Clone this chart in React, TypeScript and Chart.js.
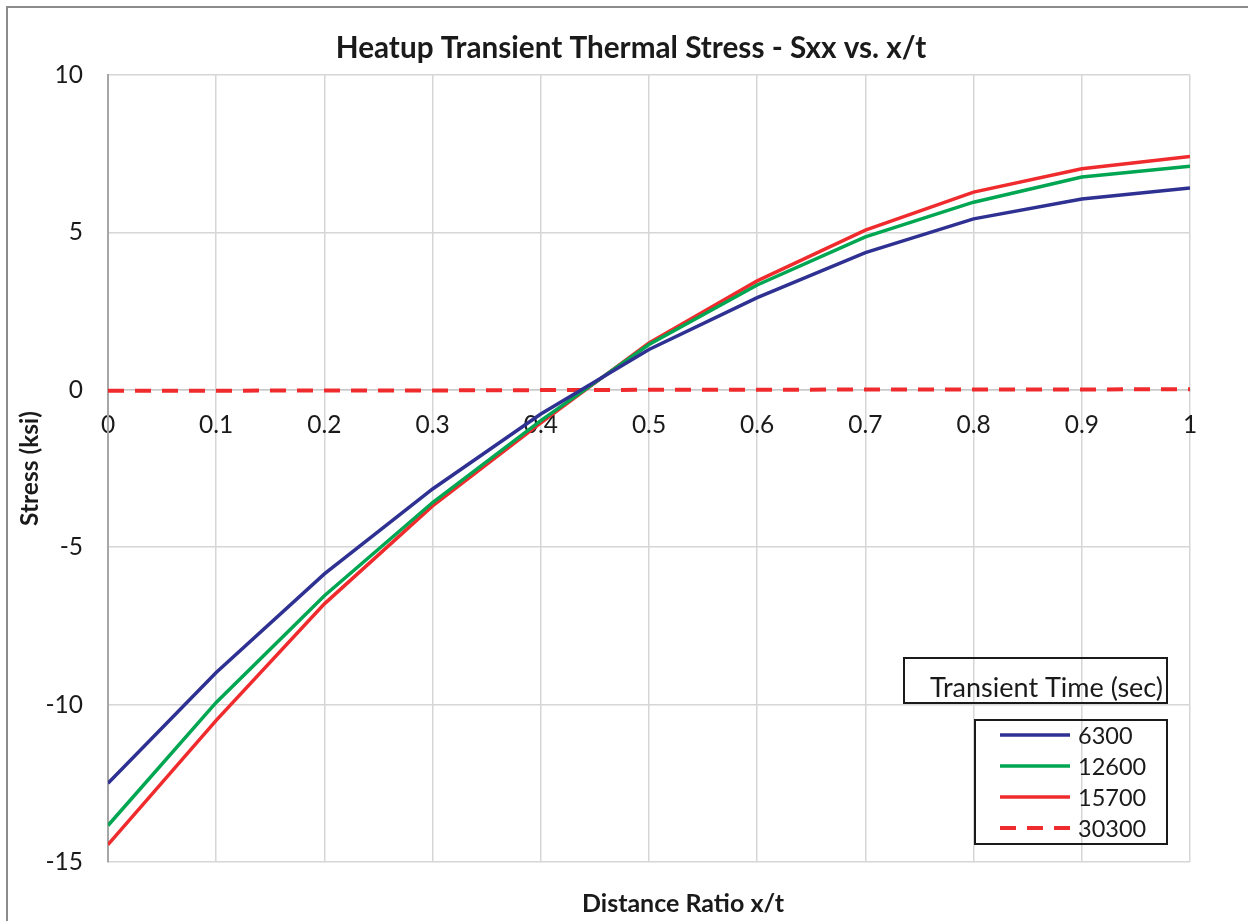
import { useEffect, useRef } from "react";
import { Chart, registerables } from "chart.js";

Chart.register(...registerables);

// ---- data ----
const xRatio = [0, 0.1, 0.2, 0.3, 0.4, 0.5, 0.6, 0.7, 0.8, 0.9, 1.0];
const stress6300 = [-12.5, -8.98, -5.85, -3.15, -0.77, 1.28, 2.93, 4.36, 5.43, 6.06, 6.41];
const stress12600 = [-13.84, -9.93, -6.54, -3.58, -0.98, 1.44, 3.33, 4.86, 5.96, 6.76, 7.1];
const stress15700 = [-14.45, -10.5, -6.8, -3.69, -1.05, 1.49, 3.46, 5.07, 6.28, 7.02, 7.41];
const stress30300 = [-0.03, -0.03, -0.02, -0.02, -0.01, 0, 0, 0.01, 0.01, 0.01, 0.02];
const seriesLabels = ["6300", "12600", "15700", "30300"];
const seriesColors = ["#2e3192", "#00a651", "#ef2b2d", "#ef2b2d"];
const yTickValues = [-15, -10, -5, 0, 5, 10];

const chartTitle = "Heatup Transient Thermal Stress - Sxx vs. x/t";
const xAxisTitle = "Distance Ratio x/t";
const yAxisTitle = "Stress (ksi)";
const legendTitle = "Transient Time (sec)";

const FONT = "Lato, 'Open Sans', sans-serif";
const TEXT = "#1a1a1a";

const toPoints = (ys: number[]) => xRatio.map((x, i) => ({ x, y: ys[i] }));

const decorPlugin = {
  id: "decor",
  beforeDraw(chart: any) {
    const { ctx, width, height } = chart;
    ctx.save();
    ctx.fillStyle = "#ffffff";
    ctx.fillRect(0, 0, width, height);
    ctx.strokeStyle = "#8c8c8c";
    ctx.lineWidth = 2;
    ctx.beginPath();
    ctx.moveTo(7, height);
    ctx.lineTo(7, 7);
    ctx.lineTo(width, 7);
    ctx.stroke();
    ctx.restore();
  },
  afterDraw(chart: any) {
    const { ctx } = chart;
    ctx.save();
    ctx.fillStyle = TEXT;
    // chart title
    ctx.font = `bold 29.7px ${FONT}`;
    ctx.textAlign = "center";
    ctx.textBaseline = "alphabetic";
    ctx.fillText(chartTitle, 631, 58);
    // x axis title
    ctx.font = `bold 25px ${FONT}`;
    ctx.fillText(xAxisTitle, 683, 912);

    // legend title box
    ctx.strokeStyle = "#1a1a1a";
    ctx.lineWidth = 2;
    ctx.strokeRect(904, 658, 263, 45);
    ctx.font = `27px ${FONT}`;
    ctx.textAlign = "right";
    ctx.fillText(legendTitle, 1163, 697);

    // legend entries box
    ctx.strokeRect(975, 720, 192, 124);
    const rows = [735, 766, 797, 828];
    chart.data.datasets.forEach((ds: any, i: number) => {
      const y = rows[i];
      ctx.save();
      ctx.strokeStyle = ds.borderColor;
      ctx.lineWidth = ds.borderWidth;
      ctx.setLineDash(ds.borderDash || []);
      ctx.beginPath();
      ctx.moveTo(1000, y);
      ctx.lineTo(1070, y);
      ctx.stroke();
      ctx.restore();
      ctx.font = `23.5px ${FONT}`;
      ctx.textAlign = "left";
      ctx.textBaseline = "middle";
      ctx.fillStyle = TEXT;
      ctx.fillText(ds.label, 1078, y + 1);
    });
    ctx.restore();
  },
};

export default function App() {
  const ref = useRef<HTMLCanvasElement | null>(null);

  useEffect(() => {
    if (!ref.current) return;
    const series = [stress6300, stress12600, stress15700, stress30300];
    const chart = new Chart(ref.current, {
      type: "line",
      data: {
        datasets: series.map((ys, i) => ({
          label: seriesLabels[i],
          data: toPoints(ys),
          borderColor: seriesColors[i],
          backgroundColor: seriesColors[i],
          borderWidth: i === 3 ? 4 : 3.5,
          borderDash: i === 3 ? [16, 11] : [],
          pointRadius: 0,
          tension: 0,
          fill: false,
        })),
      },
      options: {
        responsive: false,
        animation: false,
        devicePixelRatio: 1,
        layout: { padding: { left: 0, top: 75, right: 58, bottom: 59 } },
        plugins: {
          legend: { display: false },
          title: { display: false },
          tooltip: { enabled: false },
        },
        scales: {
          x: {
            type: "linear",
            position: { y: 0 } as any,
            min: 0,
            max: 1,
            ticks: {
              stepSize: 0.1,
              color: TEXT,
              font: { family: FONT, size: 24.5 },
              padding: 21,
              maxRotation: 0,
              callback: (v: any) => String(Math.round(Number(v) * 10) / 10),
            },
            grid: { color: "#d6d6d6", lineWidth: 1.5, drawTicks: false },
            border: { color: "#c8c8c8", width: 1.5 },
          },
          y: {
            type: "linear",
            position: "left",
            min: -15,
            max: 10,
            afterBuildTicks: (scale: any) => {
              scale.ticks = yTickValues.map((v) => ({ value: v }));
            },
            afterFit: (scale: any) => {
              scale.width = 108;
            },
            ticks: {
              color: TEXT,
              font: { family: FONT, size: 24.5 },
              padding: 25,
            },
            grid: { color: "#d6d6d6", lineWidth: 1.5, drawTicks: false },
            border: { color: "#a6a6a6", width: 2 },
            title: {
              display: true,
              text: yAxisTitle,
              color: TEXT,
              font: { family: FONT, size: 24.5, weight: "bold" },
              padding: { top: 15, bottom: 0 },
            },
          },
        },
      },
      plugins: [decorPlugin],
    });
    return () => chart.destroy();
  }, []);

  return (
    <div style={{ position: "absolute", left: 0, top: 0, width: 1248, height: 921 }}>
      <canvas ref={ref} width={1248} height={921} style={{ display: "block" }} />
    </div>
  );
}
